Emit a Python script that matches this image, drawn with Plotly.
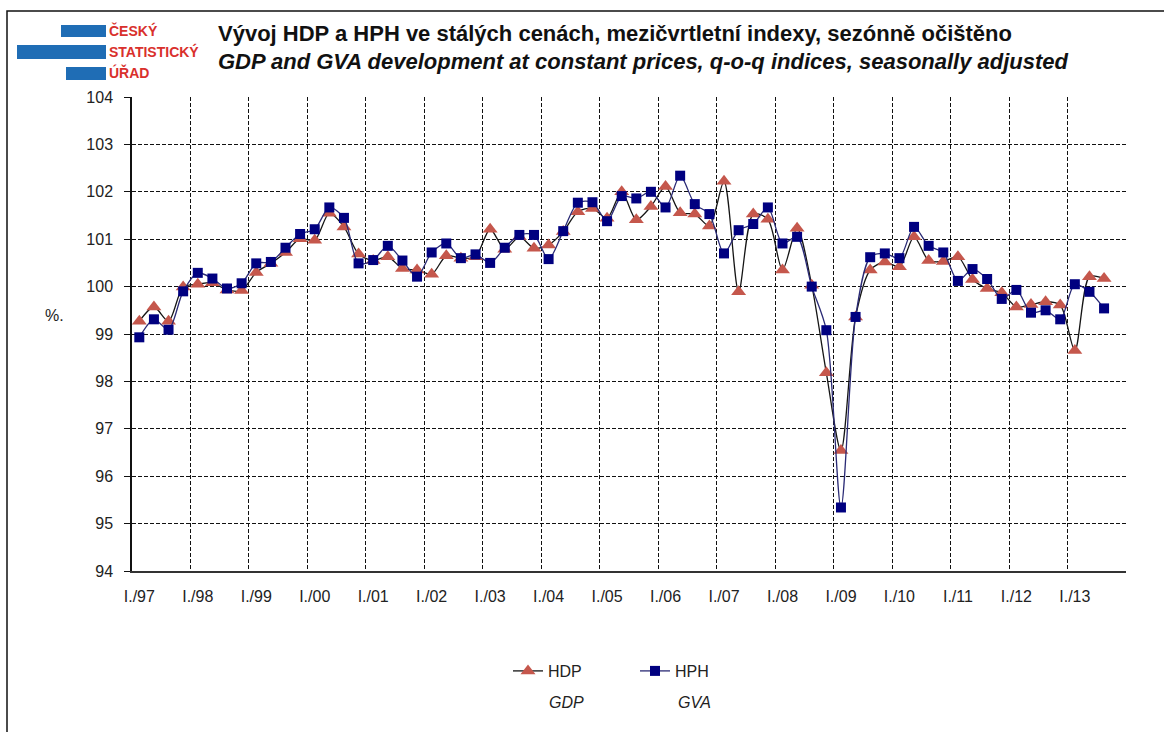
import plotly.graph_objects as go

# ---- data ----
year_labels = ["I./97", "I./98", "I./99", "I./00", "I./01", "I./02", "I./03", "I./04",
               "I./05", "I./06", "I./07", "I./08", "I./09", "I./10", "I./11", "I./12", "I./13"]
quarter_names = ["I", "II", "III", "IV"]

hdp = [99.27, 99.57, 99.27, 99.99, 100.05, 100.08, 99.93, 99.92,
       100.30, 100.49, 100.72, 101.01, 100.98, 101.55, 101.26, 100.69,
       100.55, 100.63, 100.38, 100.35, 100.26, 100.65, 100.60, 100.63,
       101.21, 100.79, 101.05, 100.81, 100.88, 101.16, 101.58, 101.65,
       101.44, 102.00, 101.41, 101.69, 102.11, 101.56, 101.53, 101.28,
       102.22, 99.89, 101.53, 101.42, 100.35, 101.23, 100.03, 98.18,
       96.54, 99.36, 100.35, 100.52, 100.42, 101.05, 100.55, 100.53,
       100.63, 100.15, 99.96, 99.87, 99.57, 99.62, 99.68, 99.61,
       98.65, 100.21, 100.17]

hph = [98.93, 99.31, 99.09, 99.90, 100.29, 100.17, 99.96, 100.07,
       100.49, 100.52, 100.82, 101.11, 101.21, 101.67, 101.45, 100.49,
       100.56, 100.86, 100.55, 100.21, 100.72, 100.91, 100.60, 100.68,
       100.50, 100.82, 101.09, 101.09, 100.58, 101.17, 101.77, 101.78,
       101.38, 101.91, 101.86, 102.00, 101.67, 102.34, 101.74, 101.53,
       100.70, 101.19, 101.32, 101.67, 100.91, 101.05, 100.00, 99.08,
       95.34, 99.36, 100.62, 100.70, 100.60, 101.26, 100.86, 100.72,
       100.12, 100.37, 100.16, 99.74, 99.93, 99.45, 99.50, 99.31,
       100.05, 99.89, 99.54]

n_slots = 4 * len(year_labels)  # category slots on the axis (I./97 .. IV./13)
quarters = [f"{q}./{lab.split('/')[1]}" for lab in year_labels for q in quarter_names]
x_idx = list(range(len(hdp)))
hover_q = quarters[:len(hdp)]

# ---- layout geometry (pixels) ----
W_FIG, H_FIG = 1164, 732
L, R, T, B = 132, 1126, 97, 571
PW, PH = R - L, B - T

def xp(px):
    return (px - L) / PW

def yp(py):
    return (B - py) / PH

FONT = "Liberation Sans, Arial, sans-serif"

fig = go.Figure()
fig.add_trace(go.Scatter(
    x=x_idx, y=hdp, name="HDP", mode="lines+markers", customdata=hover_q,
    line=dict(color="#151515", width=1.3, shape="spline", smoothing=0.8),
    marker=dict(symbol="triangle-up", size=13, color="#c5574c",
                line=dict(width=0)),
    hovertemplate="%{customdata}: %{y}<extra>HDP</extra>"))
fig.add_trace(go.Scatter(
    x=x_idx, y=hph, name="HPH", mode="lines+markers", customdata=hover_q,
    line=dict(color="#2a2a75", width=1.3, shape="spline", smoothing=0.8),
    marker=dict(symbol="square", size=10, color="#000080",
                line=dict(width=0)),
    hovertemplate="%{customdata}: %{y}<extra>HPH</extra>"))

tick_pos = [4 * k for k in range(len(year_labels))]
grid_pos = [4 * k + 3.5 for k in range(len(year_labels))]

fig.update_xaxes(
    range=[-0.5, n_slots - 0.5], tickmode="array", tickvals=tick_pos,
    ticktext=year_labels, showgrid=False, ticks="", ticklabelstandoff=10,
    showline=True, linecolor="#333333", linewidth=1.5, zeroline=False,
    tickfont=dict(family=FONT, size=16, color="#222222"),
    minor=dict(tickmode="array", tickvals=grid_pos, showgrid=True,
               gridcolor="#111111", griddash="4px,2px", gridwidth=1, ticks=""))
fig.update_yaxes(
    range=[94, 104], dtick=1, tick0=94, showgrid=True, gridcolor="#111111",
    griddash="4px,2px", gridwidth=1, ticks="outside", ticklen=6,
    tickcolor="#111111", showline=True, linecolor="#111111", linewidth=1.5,
    zeroline=False, ticklabelstandoff=8,
    tickfont=dict(family=FONT, size=16, color="#222222"))

annotations = [
    dict(x=xp(216), y=yp(34), xref="paper", yref="paper", xanchor="left", yanchor="middle",
         showarrow=False,
         text="<b>Vývoj HDP a HPH ve stálých cenách, mezičvrtletní indexy, sezónně očištěno</b>",
         font=dict(family=FONT, size=22, color="#111111")),
    dict(x=xp(216), y=yp(62), xref="paper", yref="paper", xanchor="left", yanchor="middle",
         showarrow=False,
         text="<b><i>GDP and GVA development at constant prices, q-o-q indices, seasonally adjusted</i></b>",
         font=dict(family=FONT, size=22, color="#111111")),
    dict(x=xp(54), y=yp(315), xref="paper", yref="paper", xanchor="center", yanchor="middle",
         showarrow=False, text="%.", font=dict(family=FONT, size=16, color="#222222")),
    dict(x=xp(566), y=yp(702), xref="paper", yref="paper", xanchor="center", yanchor="middle",
         showarrow=False, text="<i>GDP</i>", font=dict(family=FONT, size=16, color="#222222")),
    dict(x=xp(694), y=yp(702), xref="paper", yref="paper", xanchor="center", yanchor="middle",
         showarrow=False, text="<i>GVA</i>", font=dict(family=FONT, size=16, color="#222222")),
]
for txt, cy in [("ČESKÝ", 31), ("STATISTICKÝ", 52), ("ÚŘAD", 73)]:
    annotations.append(dict(x=xp(107), y=yp(cy), xref="paper", yref="paper",
                            xanchor="left", yanchor="middle", showarrow=False,
                            text=f"<b>{txt}</b>",
                            font=dict(family=FONT, size=14, color="#d9302c")))

shapes = []
for x0, x1, y0, y1 in [(61, 106, 25, 37), (17, 106, 45, 59), (66, 106, 67, 80)]:
    shapes.append(dict(type="rect", xref="paper", yref="paper",
                       x0=xp(x0), x1=xp(x1), y0=yp(y1), y1=yp(y0),
                       fillcolor="#1f6db5", line=dict(width=0)))
# outer frame (left + top)
shapes.append(dict(type="path", xref="paper", yref="paper",
                   path=f"M {xp(7)},{yp(740)} L {xp(7)},{yp(11)} L {xp(1170)},{yp(11)}",
                   line=dict(color="#111111", width=1.5)))

fig.update_layout(
    width=W_FIG, height=H_FIG, autosize=False,
    margin=dict(l=L, r=W_FIG - R, t=T, b=H_FIG - B, pad=0),
    paper_bgcolor="white", plot_bgcolor="white",
    font=dict(family=FONT, color="#222222"),
    showlegend=True,
    legend=dict(orientation="h", x=xp(508), y=yp(671), xanchor="left", yanchor="middle",
                font=dict(family=FONT, size=16, color="#222222"),
                bgcolor="rgba(0,0,0,0)", entrywidth=82, entrywidthmode="pixels",
                itemclick=False, itemdoubleclick=False),
    annotations=annotations, shapes=shapes,
)

fig.write_html("out.html", config={"displayModeBar": False},
               post_script="document.body.style.margin='0';document.body.style.padding='0';")
